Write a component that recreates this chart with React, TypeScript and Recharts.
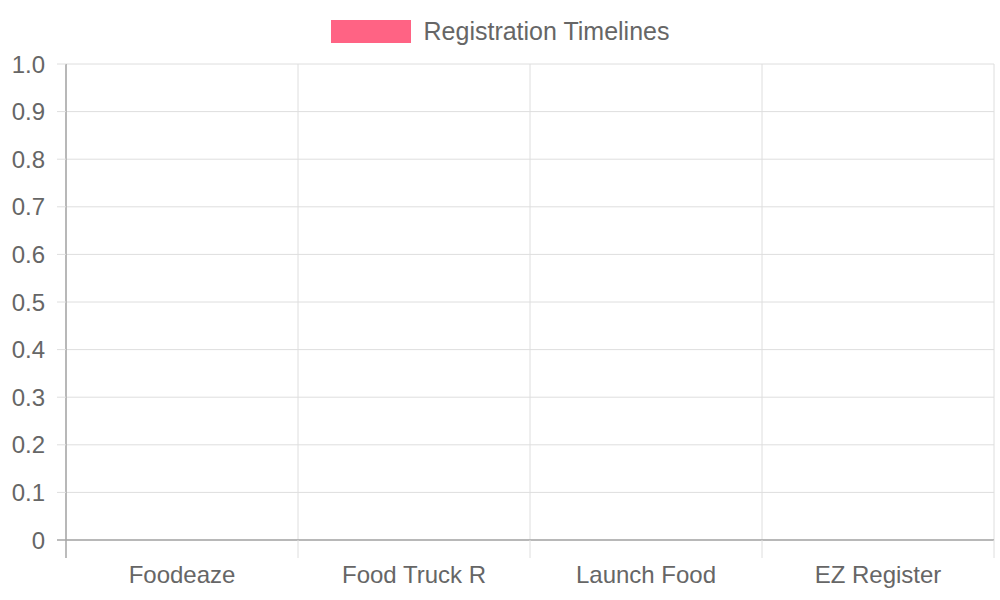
import { BarChart, Bar, XAxis, YAxis, CartesianGrid, Legend } from "recharts";

const categories = ["Foodeaze", "Food Truck R", "Launch Food", "EZ Register"];
const registrationTimelines = [0, 0, 0, 0];
const yTicks = [0, 0.1, 0.2, 0.3, 0.4, 0.5, 0.6, 0.7, 0.8, 0.9, 1.0];

const seriesName = "Registration Timelines";
const PINK = "#ff6384";
const GRID = "#dedede";
const AXIS = "#a6a6a6";
const TEXT = "#666";
const FONT = "'Liberation Sans', Arial, sans-serif";
const FONT_SIZE = 24;

const WIDTH = 1000;
const HEIGHT = 600;
const LEFT = 66;
const RIGHT = 6;
const BAND = (WIDTH - LEFT - RIGHT) / categories.length;

const data = categories.map((name, i) => ({ name, value: registrationTimelines[i] }));

function XTick(props: any) {
  const { x, y, payload, index } = props;
  const half = BAND / 2;
  return (
    <g>
      <line x1={x - half} x2={x - half} y1={y} y2={y + 18} stroke={index === 0 ? AXIS : GRID} strokeWidth={index === 0 ? 1.5 : 1} />
      {index === categories.length - 1 && (
        <line x1={x + half} x2={x + half} y1={y} y2={y + 18} stroke={GRID} />
      )}
      <text
        x={x}
        y={y + 34}
        textAnchor="middle"
        dominantBaseline="central"
        fill={TEXT}
        fontSize={FONT_SIZE}
        fontFamily={FONT}
      >
        {payload.value}
      </text>
    </g>
  );
}

function YTick(props: any) {
  const { x, y, payload } = props;
  const v = payload.value as number;
  return (
    <g>
      <line x1={LEFT - 9} x2={LEFT} y1={y} y2={y} stroke={v === 0 ? AXIS : GRID} strokeWidth={v === 0 ? 1.5 : 1} />
      <text
        x={x}
        y={y}
        textAnchor="end"
        dominantBaseline="central"
        fill={TEXT}
        fontSize={FONT_SIZE}
        fontFamily={FONT}
      >
        {v === 0 ? "0" : v.toFixed(1)}
      </text>
    </g>
  );
}

function LegendBox() {
  return (
    <div
      style={{
        height: 64,
        display: "flex",
        justifyContent: "center",
        alignItems: "flex-start",
        fontFamily: FONT,
      }}
    >
      <div style={{ display: "flex", alignItems: "center", marginTop: 20 }}>
        <span style={{ width: 80, height: 23, background: PINK, display: "inline-block" }} />
        <span style={{ marginLeft: 13, fontSize: 25, color: TEXT, lineHeight: "23px" }}>
          {seriesName}
        </span>
      </div>
    </div>
  );
}

export default function App() {
  return (
    <div style={{ position: "absolute", left: 0, top: 0, width: WIDTH, height: HEIGHT, background: "#fff" }}>
      <BarChart
        width={WIDTH}
        height={HEIGHT}
        data={data}
        margin={{ top: 0, right: RIGHT, left: 0, bottom: 0 }}
      >
        <CartesianGrid
          stroke={GRID}
          verticalCoordinatesGenerator={({ offset }: any) =>
            [0, 1, 2, 3, 4].map((i) => offset.left + (i * offset.width) / categories.length)
          }
        />
        <XAxis
          dataKey="name"
          height={60}
          tickSize={0}
          tickMargin={0}
          tickLine={false}
          axisLine={{ stroke: AXIS, strokeWidth: 1.5 }}
          tick={<XTick />}
          interval={0}
        />
        <YAxis
          width={LEFT}
          domain={[0, 1]}
          ticks={yTicks}
          interval={0}
          tickSize={9}
          tickMargin={12}
          tickLine={false}
          axisLine={{ stroke: AXIS, strokeWidth: 1.5 }}
          tick={<YTick />}
        />
        <Legend
          verticalAlign="top"
          content={<LegendBox />}
          wrapperStyle={{ left: 0, top: 0, width: WIDTH }}
        />
        <Bar dataKey="value" name={seriesName} fill={PINK} isAnimationActive={false} />
      </BarChart>
    </div>
  );
}
